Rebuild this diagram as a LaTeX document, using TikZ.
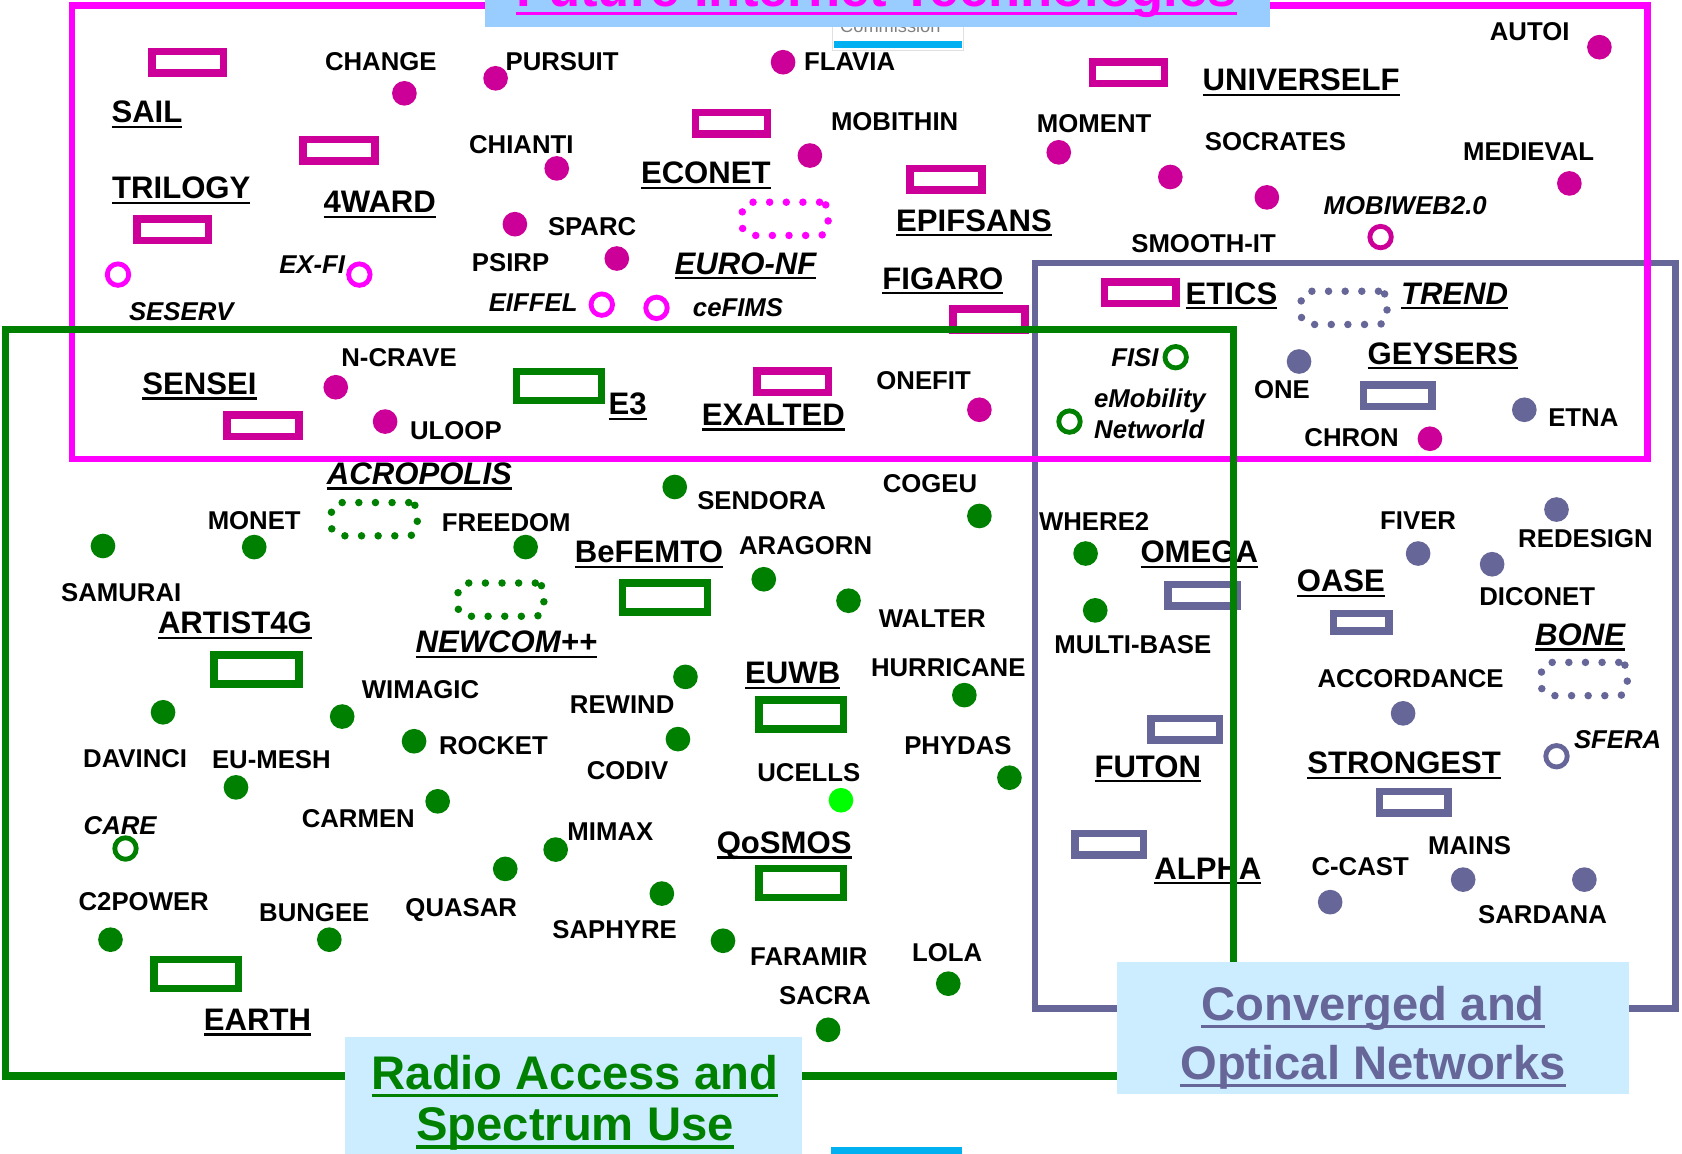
\documentclass[tikz,border=0pt]{standalone}
\usepackage{fontspec}
\setmainfont{Liberation Sans}
\usepackage{xcolor}
\usepackage{tikz}
\usetikzlibrary{positioning}
\definecolor{fitpink}{HTML}{FF00FF}
\definecolor{fitdot}{HTML}{CC0099}
\definecolor{radgreen}{HTML}{008000}
\definecolor{ltgreen}{HTML}{00FF00}
\definecolor{onslate}{HTML}{666699}
\definecolor{titleblue}{HTML}{99CCFF}
\definecolor{boxblue}{HTML}{CCECFF}
\definecolor{barcyan}{HTML}{00B0F0}
\newcommand{\ulx}[1]{\setbox0\hbox{#1}\rlap{\vrule width\wd0 height -0.1em depth 0.17em}\box0}

\begin{document}
\begin{tikzpicture}[x=1pt,y=-1pt]
 \tikzstyle{lbl}=[inner sep=0pt, font=\fontsize{24}{29}\selectfont\bfseries, text height=17pt, text depth=0pt]
 \tikzstyle{ital}=[lbl, font=\fontsize{24}{29}\selectfont\bfseries\itshape]
 \tikzstyle{itwo}=[inner sep=0pt, align=left, font=\fontsize{24}{29}\selectfont\bfseries\itshape]
 \tikzstyle{big}=[inner sep=0pt, font=\fontsize{29}{35}\selectfont\bfseries, text height=21pt, text depth=0pt]
 \tikzstyle{bigit}=[big, font=\fontsize{29}{35}\selectfont\bfseries\itshape]
 \tikzstyle{mbox}=[draw=fitdot, line width=7pt, minimum width=67pt, minimum height=20pt, inner sep=0pt]
 \tikzstyle{gbox}=[draw=radgreen, line width=7pt, minimum width=79pt, minimum height=27pt, inner sep=0pt]
 \tikzstyle{sbox}=[draw=onslate, line width=7pt, minimum width=64pt, minimum height=20pt, inner sep=0pt]
 \tikzstyle{pdot}=[circle, inner sep=0pt, minimum size=23pt]
 \tikzstyle{ring}=[circle, draw, line width=4.5pt, minimum size=20pt, inner sep=0pt]
 \tikzstyle{dotbox}=[draw, line width=7pt, line cap=round, dash pattern=on 0pt off 15.5pt, rounded corners=8pt, minimum width=80pt, minimum height=31pt, inner sep=0pt]
 \tikzstyle{title}=[inner sep=0pt, align=center, font=\fontsize{44}{48}\selectfont\bfseries]

 \useasboundingbox (0,0) rectangle (1568,1075);
 \clip (0,0) rectangle (1568,1075);

 \draw[onslate, line width=6pt] (965,245) rectangle (1562,940);
 \draw[fitpink, line width=6pt] (67,5) rectangle (1536,428);

 \node[mbox] (sail) at (175,58) {};
 \node[big] (sailt) at (137,104) {\ulx{SAIL}};
 \node[lbl] (changet) at (355,57) {CHANGE};
 \node[pdot,fill=fitdot] (change) at (377,87) {};
 \node[pdot,fill=fitdot] (pursuit) at (462,73) {};
 \node[lbl] (pursuitt) at (524,57) {PURSUIT};
 \node[pdot,fill=fitdot] (flavia) at (730,58) {};
 \node[lbl] (flaviat) at (792,57) {FLAVIA};
 \node[mbox] (univerself) at (1052,68) {};
 \node[big] (universelft) at (1213,74) {\ulx{UNIVERSELF}};
 \node[lbl] (autoit) at (1426,29) {AUTOI};
 \node[pdot,fill=fitdot] (autoi) at (1491,44) {};
 \node[big] (trilogyt) at (169,175) {\ulx{TRILOGY}};
 \node[mbox] (trilogy) at (161,214) {};
 \node[mbox] (fourward) at (316,140) {};
 \node[big] (fourwardt) at (354,188) {\ulx{4WARD}};
 \node[lbl] (chiantit) at (486,135) {CHIANTI};
 \node[pdot,fill=fitdot] (chianti) at (519,157) {};
 \node[mbox] (econet) at (682,115) {};
 \node[big] (econett) at (658,161) {\ulx{ECONET}};
 \node[lbl] (mobithint) at (834,113) {MOBITHIN};
 \node[pdot,fill=fitdot] (mobithin) at (755,145) {};
 \node[lbl] (momentt) at (1020,115) {MOMENT};
 \node[pdot,fill=fitdot] (moment) at (987,142) {};
 \node[lbl] (socratest) at (1189,132) {SOCRATES};
 \node[pdot,fill=fitdot] (socrates) at (1091,165) {};
 \node[lbl] (medievalt) at (1425,141) {MEDIEVAL};
 \node[pdot,fill=fitdot] (medieval) at (1463,171) {};
 \node[mbox] (epifsans) at (882,167) {};
 \node[big] (epifsanst) at (908,205) {\ulx{EPIFSANS}};
 \node[pdot,fill=fitdot] (sparc) at (480,209) {};
 \node[lbl] (sparct) at (552,211) {SPARC};
 \node[lbl] (psirpt) at (476,245) {PSIRP};
 \node[pdot,fill=fitdot] (psirp) at (575,241) {};
 \node[dotbox,draw=fitpink] (euronf) at (732,204) {};
 \node[bigit] (euronft) at (695,245) {\ulx{EURO-NF}};
 \node[pdot,fill=fitdot] (smoothit) at (1181,184) {};
 \node[lbl] (smoothitt) at (1122,227) {SMOOTH-IT};
 \node[ital] (mobiwebt) at (1310,191) {MOBIWEB2.0};
 \node[ring,draw=fitdot] (mobiweb) at (1287,221) {};
 \node[ring,draw=fitpink] (seserv) at (110,256) {};
 \node[ital] (seservt) at (169,290) {SESERV};
 \node[ital] (exfit) at (291,246) {EX-FI};
 \node[ring,draw=fitpink] (exfi) at (335,256) {};
 \node[ital] (eiffelt) at (497,282) {EIFFEL};
 \node[ring,draw=fitpink] (eiffel) at (561,284) {};
 \node[ring,draw=fitpink] (cefims) at (612,287) {};
 \node[ital] (cefimst) at (688,287) {ceFIMS};
 \node[big] (figarot) at (879,259) {\ulx{FIGARO}};
 \node[mbox] (figaro) at (922,298) {};
 \node[mbox] (etics) at (1063,273) {};
 \node[big] (eticst) at (1148,273) {\ulx{ETICS}};
 \node[dotbox,draw=onslate] (trend) at (1253,287) {};
 \node[bigit] (trendt) at (1356,273) {\ulx{TREND}};
 \node[big] (senseit) at (186,357) {\ulx{SENSEI}};
 \node[mbox] (sensei) at (245,397) {};
 \node[lbl] (ncravet) at (372,333) {N-CRAVE};
 \node[pdot,fill=fitdot] (ncrave) at (313,361) {};
 \node[pdot,fill=fitdot] (uloop) at (359,393) {};
 \node[lbl] (uloopt) at (425,401) {ULOOP};
 \node[gbox] (ethree) at (521,360) {};
 \node[big] (ethreet) at (585,376) {\ulx{E3}};
 \node[mbox] (exalted) at (739,356) {};
 \node[big] (exaltedt) at (721,386) {\ulx{EXALTED}};
 \node[lbl] (onefitt) at (861,355) {ONEFIT};
 \node[pdot,fill=fitdot] (onefit) at (913,382) {};
 \node[ital] (fisit) at (1058,333) {FISI};
 \node[ring,draw=radgreen] (fisi) at (1096,333) {};
 \node[itwo] (emobt) at (1072,386) {eMobility\\Networld};
 \node[ring,draw=radgreen] (emob) at (997,393) {};
 \node[pdot,fill=onslate] (one) at (1211,337) {};
 \node[lbl] (onet) at (1195,363) {ONE};
 \node[big] (geyserst) at (1345,329) {\ulx{GEYSERS}};
 \node[sbox] (geysers) at (1303,369) {};
 \node[pdot,fill=onslate] (etna) at (1421,382) {};
 \node[lbl] (etnat) at (1476,389) {ETNA};
 \node[lbl] (chront) at (1260,408) {CHRON};
 \node[pdot,fill=fitdot] (chron) at (1333,409) {};

 \node[bigit] (acropolist) at (391,441) {\ulx{ACROPOLIS}};
 \node[dotbox,draw=radgreen] (acropolis) at (349,484) {};
 \node[lbl] (monett) at (237,485) {MONET};
 \node[pdot,fill=radgreen] (monet) at (237,510) {};
 \node[pdot,fill=radgreen] (samurai) at (96,509) {};
 \node[lbl] (samurait) at (113,552) {SAMURAI};
 \node[lbl] (freedomt) at (472,487) {FREEDOM};
 \node[pdot,fill=radgreen] (freedom) at (490,510) {};
 \node[pdot,fill=radgreen] (sendora) at (629,454) {};
 \node[lbl] (sendorat) at (710,466) {SENDORA};
 \node[lbl] (cogeut) at (867,451) {COGEU};
 \node[pdot,fill=radgreen] (cogeu) at (913,481) {};
 \node[big] (befemtot) at (605,514) {\ulx{BeFEMTO}};
 \node[gbox] (befemto) at (620,557) {};
 \node[lbl] (aragornt) at (751,508) {ARAGORN};
 \node[pdot,fill=radgreen] (aragorn) at (712,540) {};
 \node[pdot,fill=radgreen] (walter) at (791,560) {};
 \node[lbl] (waltert) at (869,576) {WALTER};
 \node[dotbox,draw=radgreen] (newcom) at (467,559) {};
 \node[bigit] (newcomt) at (472,598) {\ulx{NEWCOM++}};
 \node[big] (artistt) at (219,580) {\ulx{ARTIST4G}};
 \node[gbox] (artist) at (239,624) {};
 \node[lbl] (wimagict) at (392,643) {WIMAGIC};
 \node[pdot,fill=radgreen] (wimagic) at (319,668) {};
 \node[pdot,fill=radgreen] (davinci) at (152,664) {};
 \node[lbl] (davincit) at (126,707) {DAVINCI};
 \node[lbl] (eumesht) at (253,708) {EU-MESH};
 \node[pdot,fill=radgreen] (eumesh) at (220,734) {};
 \node[pdot,fill=radgreen] (rocket) at (386,691) {};
 \node[lbl] (rockett) at (460,695) {ROCKET};
 \node[lbl] (rewindt) at (580,657) {REWIND};
 \node[pdot,fill=radgreen] (rewind) at (639,631) {};
 \node[pdot,fill=radgreen] (codiv) at (632,689) {};
 \node[lbl] (codivt) at (585,718) {CODIV};
 \node[big] (euwbt) at (739,627) {\ulx{EUWB}};
 \node[gbox] (euwb) at (747,666) {};
 \node[lbl] (hurricanet) at (884,622) {HURRICANE};
 \node[pdot,fill=radgreen] (hurricane) at (899,648) {};
 \node[lbl] (phydast) at (893,695) {PHYDAS};
 \node[pdot,fill=radgreen] (phydas) at (941,725) {};
 \node[lbl] (ucellst) at (754,720) {UCELLS};
 \node[pdot,fill=ltgreen] (ucells) at (784,746) {};
 \node[lbl] (carment) at (334,763) {CARMEN};
 \node[pdot,fill=radgreen] (carmen) at (408,747) {};
 \node[ital] (caret) at (112,769) {CARE};
 \node[ring,draw=radgreen] (care) at (117,791) {};
 \node[lbl] (mimaxt) at (569,775) {MIMAX};
 \node[pdot,fill=radgreen] (mimax) at (518,792) {};
 \node[pdot,fill=radgreen] (quasar) at (471,810) {};
 \node[lbl] (quasart) at (430,846) {QUASAR};
 \node[big] (qosmost) at (731,785) {\ulx{QoSMOS}};
 \node[gbox] (qosmos) at (747,823) {};
 \node[pdot,fill=radgreen] (saphyre) at (617,833) {};
 \node[lbl] (saphyret) at (573,866) {SAPHYRE};
 \node[lbl] (ctwopowert) at (134,840) {C2POWER};
 \node[pdot,fill=radgreen] (ctwopower) at (103,876) {};
 \node[lbl] (bungeet) at (293,851) {BUNGEE};
 \node[pdot,fill=radgreen] (bungee) at (307,876) {};
 \node[pdot,fill=radgreen] (faramir) at (674,877) {};
 \node[lbl] (faramirt) at (754,892) {FARAMIR};
 \node[lbl] (lolat) at (883,888) {LOLA};
 \node[pdot,fill=radgreen] (lola) at (884,917) {};
 \node[lbl] (sacrat) at (769,928) {SACRA};
 \node[pdot,fill=radgreen] (sacra) at (772,960) {};
 \node[gbox] (earth) at (183,908) {};
 \node[big] (eartht) at (240,950) {\ulx{EARTH}};

 \node[lbl] (wheretwot) at (1020,486) {WHERE2};
 \node[pdot,fill=radgreen] (wheretwo) at (1012,516) {};
 \node[big] (omegat) at (1118,514) {\ulx{OMEGA}};
 \node[sbox] (omega) at (1121,555) {};
 \node[pdot,fill=radgreen] (multibase) at (1021,569) {};
 \node[lbl] (multibaset) at (1056,601) {MULTI-BASE};
 \node[sbox] (futon) at (1105,680) {};
 \node[big] (futont) at (1070,714) {\ulx{FUTON}};
 \node[sbox] (alpha) at (1034,787) {};
 \node[big] (alphat) at (1126,809) {\ulx{ALPHA}};

 \node[lbl] (fivert) at (1322,485) {FIVER};
 \node[pdot,fill=onslate] (fiver) at (1322,516) {};
 \node[pdot,fill=onslate] (redesign) at (1451,475) {};
 \node[lbl] (redesignt) at (1478,502) {REDESIGN};
 \node[pdot,fill=onslate] (diconet) at (1391,526) {};
 \node[lbl] (diconett) at (1433,556) {DICONET};
 \node[big] (oaset) at (1250,541) {\ulx{OASE}};
 \node[sbox,minimum width=52pt,minimum height=16pt] (oase) at (1269,580) {};
 \node[bigit] (bonet) at (1473,591) {\ulx{BONE}};
 \node[dotbox,draw=onslate] (bone) at (1477,633) {};
 \node[lbl] (accordancet) at (1315,632) {ACCORDANCE};
 \node[pdot,fill=onslate] (accordance) at (1308,665) {};
 \node[ring,draw=onslate] (sfera) at (1451,705) {};
 \node[ital] (sferat) at (1508,689) {SFERA};
 \node[big] (strongestt) at (1309,711) {\ulx{STRONGEST}};
 \node[sbox] (strongest) at (1318,748) {};
 \node[lbl] (mainst) at (1370,788) {MAINS};
 \node[pdot,fill=onslate] (mains) at (1364,820) {};
 \node[lbl] (ccastt) at (1268,808) {C-CAST};
 \node[pdot,fill=onslate] (ccast) at (1240,841) {};
 \node[pdot,fill=onslate] (sardana) at (1477,820) {};
 \node[lbl] (sardanat) at (1438,852) {SARDANA};

 \draw[radgreen, line width=7pt] (5,307) rectangle (1150,1003);

 \node[inner sep=0pt, text=gray, font=\fontsize{17}{17}\selectfont] (commt) at (830,24) {Commission};
 \draw[black!12, line width=1pt] (776,14) rectangle (898,47);
 \fill[barcyan] (777,38) rectangle (897,45);
 \fill[barcyan] (775,1069) rectangle (897,1080);

 \fill[titleblue] (452,-5) rectangle (1184,25);
 \node[inner sep=0pt, anchor=base, text=fitpink, font=\fontsize{49}{55}\selectfont\bfseries] (futt) at (817,6) {\ulx{Future Internet Technologies}};
 \fill[boxblue] (322,967) rectangle (748,1080);
 \node[title, text=radgreen] (radiot) at (536,1028) {\ulx{Radio Access and}\\\ulx{Spectrum Use}};
 \fill[boxblue] (1041,897) rectangle (1519,1020);
 \node[title, text=onslate, font=\fontsize{44}{55}\selectfont\bfseries] (convt) at (1280,967) {\ulx{Converged and}\\\ulx{Optical Networks}};
\end{tikzpicture}
\end{document}
